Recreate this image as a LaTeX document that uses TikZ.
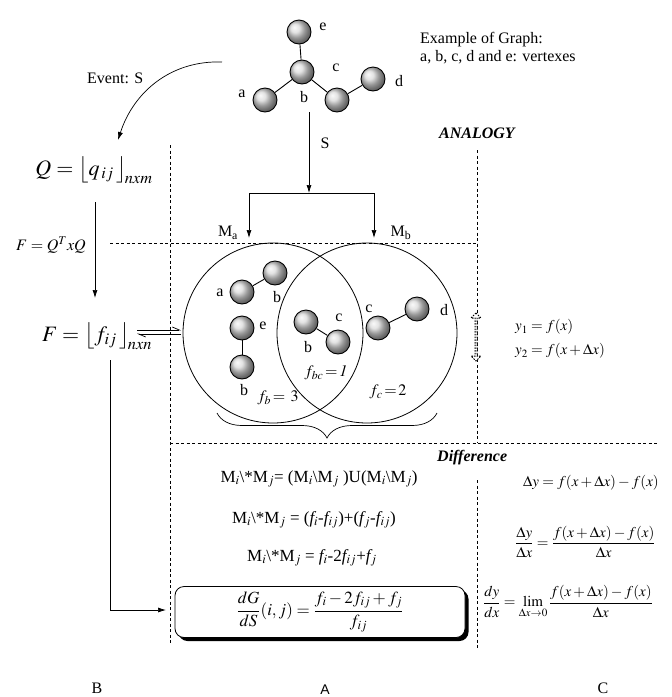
\documentclass[tikz,border=0pt]{standalone}
\usepackage{mathptmx}
\usepackage{fontspec}
\setmainfont{Liberation Serif}
\setsansfont{Liberation Sans}
\newfontfamily\tms{Liberation Serif}
\newfontfamily\arl{Liberation Sans}
\usetikzlibrary{arrows.meta,shapes.arrows,shadows,decorations.pathreplacing}
\begin{document}
\begin{tikzpicture}[x=1pt,y=-1pt,
  lw/.style={line width=0.7pt},
  dsh/.style={line width=0.6pt, dash pattern=on 3pt off 2.5pt},
  arr/.style={lw,-{Latex[length=8pt,width=5pt]}},
  sph/.style={circle, draw=black, line width=0.9pt, minimum size=24pt, inner sep=0pt, ball color=gray!30},
  edge/.style={line width=0.9pt},
  lbl/.style={font=\fontsize{16}{17}\selectfont\tms, inner sep=0pt},
  mid/.style={font=\fontsize{17}{19}\selectfont\tms, inner sep=0pt},
  rf/.style={font=\fontsize{15}{17}\selectfont\tms, inner sep=0pt, anchor=west},
  venn/.style={circle, draw, line width=0.8pt, minimum size=180pt, inner sep=0pt},
  boldit/.style={font=\fontsize{16}{17}\selectfont\tms\bfseries\itshape, inner sep=0pt, anchor=base west}
]
\useasboundingbox (0,0) rectangle (672,697);

% ---------- top graph ----------
\node[sph] (te) at (299,32) {};
\node[sph] (tb) at (302,72) {};
\node[sph] (ta) at (265,100) {};
\node[sph] (tc) at (337,100) {};
\node[sph] (td) at (373,79) {};
\draw[edge] (te) -- (tb);
\draw[edge] (ta) -- (tb);
\draw[edge] (tb) -- (tc);
\draw[edge] (tc) -- (td);
\node[lbl] (tle) at (323,27) {e};
\node[lbl] (tlb) at (304,97) {b};
\node[lbl] (tla) at (242,94) {a};
\node[lbl] (tlc) at (336,68) {c};
\node[lbl] (tld) at (399,81) {d};

\node[lbl, anchor=base west] (ex1) at (420,43) {Example of Graph:};
\node[lbl, anchor=base west] (ex2) at (420,61) {a, b, c, d and e: vertexes};

\node[boldit] (analogy) at (439,138) {ANALOGY};

% ---------- event arrow ----------
\node[lbl, anchor=base west] (event) at (87,83) {Event: S};
\coordinate (ev0) at (222,62);
\node[inner sep=0pt, font=\fontsize{22}{24}\selectfont\tms] (Q) at (94,170) {$Q=\big\lfloor q_{\,ij}\,\big\rfloor_{\!nxm}$};
\coordinate (ev1) at (118,140);
\draw[arr] (ev0) to[out=178, in=72] (ev1);

\coordinate (q0) at (95,202);
\coordinate (q1) at (95,298);
\draw[arr] (q0) -- (q1);
\node[inner sep=0pt, font=\fontsize{16}{18}\selectfont\tms] (FQ) at (51,245) {$F=Q^{T}xQ$};

\node[inner sep=0pt, font=\fontsize{22}{24}\selectfont\tms] (F) at (97,336) {$F=\big\lfloor f_{ij}\,\big\rfloor_{\!nxn}$};

% harpoons
\coordinate (h1a) at (137,330);
\coordinate (h1b) at (181,330);
\coordinate (h2a) at (181,334);
\coordinate (h2b) at (137,334);
\draw[lw,-{Straight Barb[harpoon,length=7pt,width=6pt]}] (h1a) -- (h1b);
\draw[lw,-{Straight Barb[harpoon,length=7pt,width=6pt]}] (h2a) -- (h2b);

% F to box
\coordinate (f0) at (110,360);
\coordinate (f1) at (110,610);
\coordinate (f2) at (166,610);
\draw[arr] (f0) -- (f1) -- (f2);

% ---------- dashed frame ----------
\coordinate (dl0) at (170,145);
\coordinate (dl1) at (170,645);
\coordinate (dr0) at (477,150);
\coordinate (dr1) at (477,443);
\coordinate (dr2) at (477,480);
\coordinate (dr3) at (477,650);
\coordinate (dh0) at (110,243);
\coordinate (dh1) at (477,243);
\coordinate (dm0) at (170,443);
\coordinate (dm1) at (658,443);
\draw[dsh] (dl0) -- (dl1);
\draw[dsh] (dr0) -- (dr1);
\draw[dsh] (dr2) -- (dr3);
\draw[dsh] (dh0) -- (dh1);
\draw[dsh] (dm0) -- (dm1);

\node[double arrow, draw, dash pattern=on 1.5pt off 1.2pt, fill=white, rotate=90, minimum height=48pt, minimum width=10pt, double arrow head extend=2pt, double arrow head indent=0pt, inner sep=0pt, line width=1pt] (dar) at (476,337) {};

% ---------- S arrows ----------
\coordinate (s0) at (309,112);
\coordinate (s1) at (309,193);
\coordinate (sl) at (249,193);
\coordinate (sr) at (374,193);
\coordinate (sla) at (249,238);
\coordinate (srb) at (374,238);
\draw[arr] (s0) -- (s1);
\draw[lw] (sl) -- (sr);
\draw[arr] (sl) -- (sla);
\draw[arr] (sr) -- (srb);
\node[lbl] (S) at (325,143) {S};
\node[lbl] (Ma) at (228,233) {M\textsubscript{a}};
\node[lbl] (Mb) at (401,233) {M\textsubscript{b}};

% ---------- Venn ----------
\node[venn] (MA) at (273,333) {};
\node[venn] (MB) at (367,333) {};

\node[sph] (va) at (242,292) {};
\node[sph] (vb1) at (275,273) {};
\draw[edge] (va) -- (vb1);
\node[lbl] (vla) at (220,293) {a};
\node[lbl] (vlb1) at (277,297) {b};

\node[sph] (ve) at (242,328) {};
\node[sph] (vb2) at (242,367) {};
\draw[edge] (ve) -- (vb2);
\node[lbl] (vle) at (263,326) {e};
\node[lbl] (vlb2) at (244,390) {b};

\node[sph] (vb3) at (306,322) {};
\node[sph] (vc1) at (338,342) {};
\draw[edge] (vb3) -- (vc1);
\node[lbl] (vlb3) at (308,347) {b};
\node[lbl] (vlc1) at (339,318) {c};

\node[sph] (vc2) at (378,328) {};
\node[sph] (vd) at (417,309) {};
\draw[edge] (vc2) -- (vd);
\node[lbl] (vlc2) at (369,309) {c};
\node[lbl] (vld) at (444,310) {d};

\node[lbl] (fbc) at (326,373) {$f_{bc}\!=\!\mathit{1}$};
\node[lbl] (fb) at (278,398) {$f_{b}\!=\,3$};
\node[lbl] (fc) at (388,392) {$f_{c}\!=\!2$};

\coordinate (br0) at (217,413);
\coordinate (br1) at (437,413);
\draw[lw, decorate, decoration={brace, mirror, amplitude=25pt, aspect=0.5}] (br0) -- (br1);

\node[boldit] (diff) at (437,461) {Difference};

% ---------- middle formulas ----------
\node[mid] (m1) at (319,479) {M$_i$\textbackslash*M$_j$= (M$_i$\textbackslash M$_j$ )U(M$_i$\textbackslash M$_j$)};
\node[mid] (m2) at (314,520) {M$_i$\textbackslash*M$_j$ = (\textit{f$_i$}-\textit{f$_{ij}$})+(\textit{f$_j$}-\textit{f$_{ij}$})};
\node[mid] (m3) at (312,558) {M$_i$\textbackslash*M$_j$ = \textit{f$_i$}-2\textit{f$_{ij}$}+\textit{f$_j$}};

\node[draw, line width=0.8pt, rounded corners=9pt, fill=white, minimum width=290pt, minimum height=51pt, inner sep=0pt,
  drop shadow={shadow xshift=3.5pt, shadow yshift=-3.5pt, fill=black, opacity=1},
  font=\fontsize{17}{19}\selectfont\tms] (box) at (320,612)
  {$\displaystyle\frac{dG}{dS}(i,j)=\frac{f_i-2f_{ij}+f_j}{f_{ij}}$};

% ---------- right formulas ----------
\node[rf] (y1) at (515,327) {$y_1=f(x)$};
\node[rf] (y2) at (515,351) {$y_2=f(x+\Delta x)$};
\node[rf] (dy) at (523,483) {$\Delta y=f(x+\Delta x)-f(x)$};
\node[rf] (dq) at (515,542) {$\displaystyle\frac{\Delta y}{\Delta x}=\frac{f(x+\Delta x)-f(x)}{\Delta x}$};
\node[rf] (lim) at (483,602) {$\displaystyle\frac{dy}{dx}=\lim_{\Delta x\to 0}\frac{f(x+\Delta x)-f(x)}{\Delta x}$};

% ---------- column labels ----------
\node[lbl] (B) at (97,688) {B};
\node[inner sep=0pt, font=\fontsize{14}{16}\selectfont\arl] (A) at (325,690) {A};
\node[lbl] (C) at (603,688) {C};
\end{tikzpicture}
\end{document}
